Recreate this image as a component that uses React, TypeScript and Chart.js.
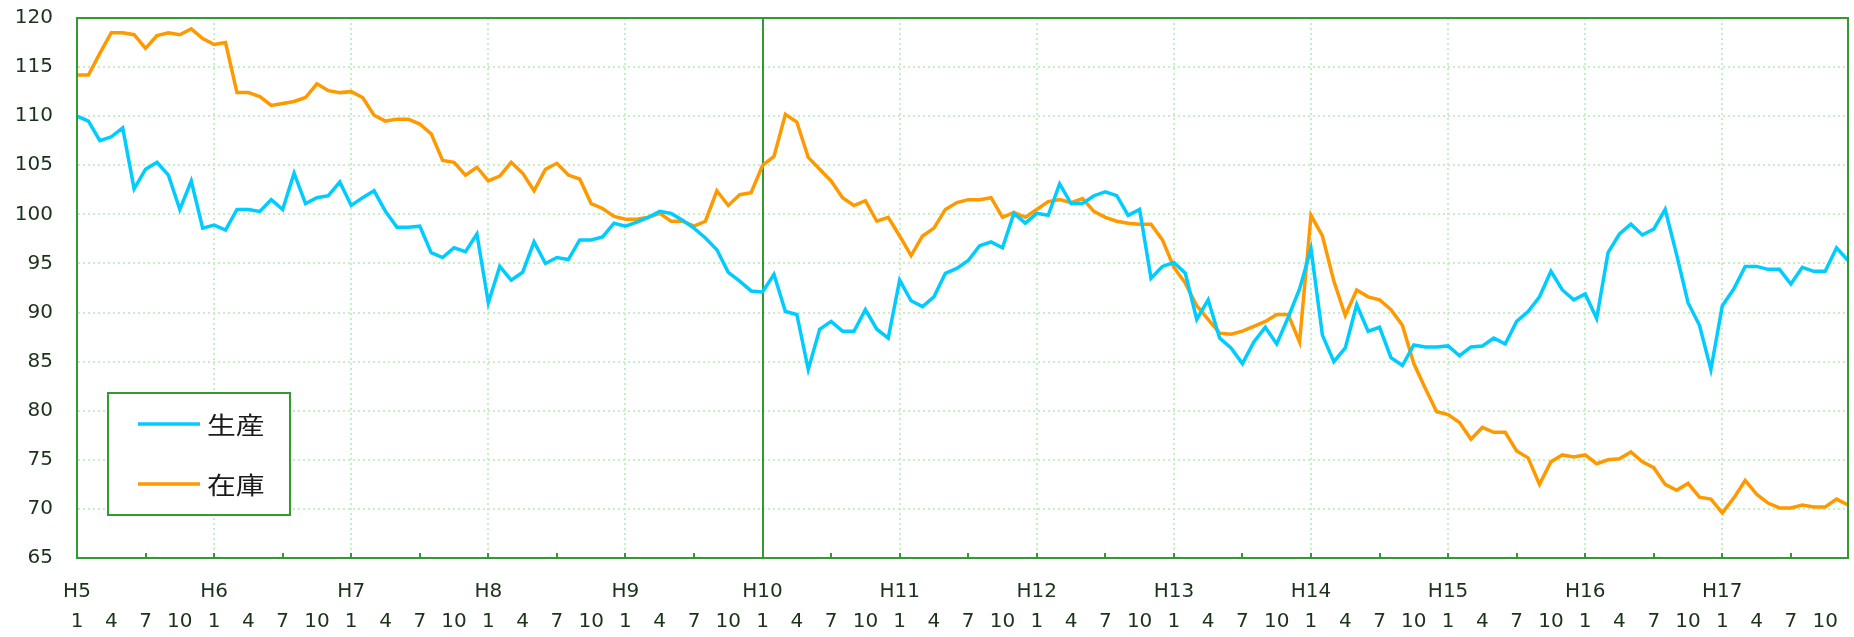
import React, { useEffect, useRef } from 'react';
import { Chart, registerables } from 'chart.js';

Chart.register(...registerables);

const YEARS = ['H5', 'H6', 'H7', 'H8', 'H9', 'H10', 'H11', 'H12', 'H13', 'H14', 'H15', 'H16', 'H17'];
const MONTHS = [1, 2, 3, 4, 5, 6, 7, 8, 9, 10, 11, 12];
const CATEGORIES = YEARS.flatMap((y) => MONTHS.map((m) => `${y}/${m}`));
const MONTH_TICKS = [1, 4, 7, 10];
const MARKED_YEAR = 'H10';

const SERIES_NAMES = ['生産', '在庫'];

const PRODUCTION = [
  110.0, 109.5, 107.5, 107.9, 108.8, 102.6, 104.6, 105.3, 104.0, 100.5, 103.4, 98.6,
  98.9, 98.4, 100.5, 100.5, 100.3, 101.5, 100.5, 104.2, 101.1, 101.7, 101.9, 103.3,
  100.9, 101.7, 102.4, 100.3, 98.7, 98.7, 98.8, 96.1, 95.6, 96.6, 96.2, 98.0,
  91.0, 94.7, 93.3, 94.1, 97.2, 95.0, 95.6, 95.4, 97.4, 97.4, 97.7, 99.1,
  98.8, 99.2, 99.7, 100.3, 100.1, 99.4, 98.6, 97.6, 96.4, 94.1, 93.2, 92.2,
  92.1, 93.9, 90.1, 89.8, 84.2, 88.3, 89.1, 88.1, 88.1, 90.3, 88.3, 87.4,
  93.3, 91.2, 90.6, 91.6, 94.0, 94.5, 95.3, 96.8, 97.2, 96.6, 100.1, 99.1,
  100.1, 99.9, 103.1, 101.1, 101.1, 101.9, 102.3, 101.9, 99.9, 100.5, 93.5, 94.7,
  95.1, 94.0, 89.3, 91.3, 87.4, 86.4, 84.8, 87.0, 88.5, 86.8, 89.5, 92.4,
  96.5, 87.7, 85.0, 86.4, 90.8, 88.1, 88.5, 85.4, 84.6, 86.7, 86.5, 86.5,
  86.6, 85.6, 86.5, 86.6, 87.4, 86.8, 89.1, 90.1, 91.6, 94.2, 92.3, 91.3,
  91.9, 89.4, 96.1, 98.0, 99.0, 97.9, 98.5, 100.5, 95.9, 91.0, 88.7, 84.2,
  90.7, 92.4, 94.7, 94.7, 94.4, 94.4, 92.9, 94.6, 94.2, 94.2, 96.6, 95.3,
];

const INVENTORY = [
  114.2, 114.2, 116.4, 118.5, 118.5, 118.3, 116.9, 118.2, 118.5, 118.3, 118.9, 117.9,
  117.3, 117.5, 112.4, 112.4, 112.0, 111.1, 111.3, 111.5, 111.9, 113.3, 112.6, 112.4,
  112.5, 111.9, 110.1, 109.5, 109.7, 109.7, 109.2, 108.2, 105.5, 105.3, 104.0, 104.8,
  103.4, 103.9, 105.3, 104.2, 102.4, 104.6, 105.2, 104.0, 103.6, 101.1, 100.6, 99.8,
  99.5, 99.5, 99.7, 100.1, 99.3, 99.3, 98.8, 99.3, 102.4, 100.9, 102.0, 102.2,
  105.0, 105.9, 110.2, 109.4, 105.8, 104.6, 103.4, 101.7, 100.9, 101.4, 99.3, 99.7,
  97.8, 95.8, 97.8, 98.6, 100.5, 101.2, 101.5, 101.5, 101.7, 99.7, 100.2, 99.7,
  100.5, 101.3, 101.5, 101.2, 101.6, 100.3, 99.7, 99.3, 99.1, 99.0, 99.0, 97.4,
  94.6, 93.0, 90.7, 89.3, 87.9, 87.8, 88.1, 88.6, 89.1, 89.8, 89.8, 87.0,
  99.9, 97.8, 93.2, 89.7, 92.3, 91.6, 91.3, 90.3, 88.7, 84.8, 82.3, 79.9,
  79.6, 78.8, 77.1, 78.3, 77.8, 77.8, 75.9, 75.2, 72.5, 74.8, 75.5, 75.3,
  75.5, 74.6, 75.0, 75.1, 75.8, 74.8, 74.2, 72.5, 71.9, 72.6, 71.2, 71.0,
  69.6, 71.1, 72.9, 71.5, 70.6, 70.1, 70.1, 70.4, 70.2, 70.2, 71.0, 70.4,
];

const Y_MIN = 65;
const Y_MAX = 120;
const Y_STEP = 5;

const BLUE = '#00CCFF';
const ORANGE = '#FF9900';
const GREEN = '#339933';
const GRID = '#c4f0c4';
const TEXT = '#1a331a';

const decorPlugin = {
  id: 'decor',
  beforeDatasetsDraw(chart: any) {
    const { ctx, chartArea, scales } = chart;
    const { top, bottom } = chartArea;
    const x = scales.x;
    ctx.save();
    ctx.lineWidth = 2;
    ctx.strokeStyle = GRID;
    ctx.setLineDash([2, 3]);
    for (let i = 12; i < CATEGORIES.length; i += 12) {
      if (CATEGORIES[i].startsWith(MARKED_YEAR + '/')) continue;
      const px = Math.round(x.getPixelForValue(i));
      ctx.beginPath();
      ctx.moveTo(px, top);
      ctx.lineTo(px, bottom);
      ctx.stroke();
    }
    ctx.setLineDash([]);
    const mi = CATEGORIES.indexOf(MARKED_YEAR + '/1');
    const mx = Math.round(x.getPixelForValue(mi));
    ctx.strokeStyle = GREEN;
    ctx.lineWidth = 2;
    ctx.beginPath();
    ctx.moveTo(mx, top);
    ctx.lineTo(mx, bottom);
    ctx.stroke();
    for (let i = 6; i < CATEGORIES.length; i += 6) {
      const px = Math.round(x.getPixelForValue(i));
      ctx.beginPath();
      ctx.moveTo(px, bottom);
      ctx.lineTo(px, bottom - 5);
      ctx.stroke();
    }
    ctx.restore();
  },
  afterDraw(chart: any) {
    const { ctx, chartArea } = chart;
    const { left, top, right, bottom } = chartArea;
    ctx.save();
    ctx.strokeStyle = GREEN;
    ctx.lineWidth = 2;
    ctx.strokeRect(left, top, right - left, bottom - top);

    const bx = left + 31;
    const by = top + 375;
    const bw = 182;
    const bh = 122;
    ctx.fillStyle = '#ffffff';
    ctx.fillRect(bx, by, bw, bh);
    ctx.strokeStyle = GREEN;
    ctx.lineWidth = 2;
    ctx.strokeRect(bx, by, bw, bh);
    chart.data.datasets.forEach((ds: any, k: number) => {
      const cy = by + 31 + k * 60;
      ctx.strokeStyle = ds.borderColor;
      ctx.lineWidth = 3.5;
      ctx.beginPath();
      ctx.moveTo(bx + 30, cy);
      ctx.lineTo(bx + 92, cy);
      ctx.stroke();
      ctx.save();
      ctx.translate(bx + 99, cy + 1);
      ctx.scale(1.2, 1);
      ctx.fillStyle = '#1a1a1a';
      ctx.font = '24px "Noto Sans CJK JP"';
      ctx.textBaseline = 'middle';
      ctx.textAlign = 'left';
      ctx.fillText(ds.label, 0, 0);
      ctx.restore();
    });
    ctx.restore();
  },
};

export default function App() {
  const canvasRef = useRef<HTMLCanvasElement | null>(null);

  useEffect(() => {
    const canvas = canvasRef.current;
    if (!canvas) return;
    const chart = new Chart(canvas, {
      type: 'line',
      data: {
        labels: CATEGORIES,
        datasets: [
          {
            label: SERIES_NAMES[0],
            data: PRODUCTION,
            borderColor: BLUE,
            backgroundColor: BLUE,
            borderWidth: 3.5,
            pointRadius: 0,
            tension: 0,
          },
          {
            label: SERIES_NAMES[1],
            data: INVENTORY,
            borderColor: ORANGE,
            backgroundColor: ORANGE,
            borderWidth: 3.5,
            pointRadius: 0,
            tension: 0,
          },
        ],
      },
      options: {
        animation: false,
        responsive: true,
        maintainAspectRatio: false,
        layout: { padding: { top: 18, right: 6, left: 0, bottom: 0 } },
        plugins: {
          legend: { display: false },
          tooltip: { enabled: false },
        },
        scales: {
          x: {
            type: 'category',
            offset: false,
            grid: { display: false, drawTicks: false },
            border: { display: true, color: GREEN, width: 2 },
            afterFit: (scale: any) => {
              scale.height = 79;
              scale.paddingLeft = 0;
              scale.paddingRight = 0;
            },
            ticks: {
              autoSkip: false,
              maxRotation: 0,
              minRotation: 0,
              padding: 19,
              color: TEXT,
              font: { family: '"DejaVu Sans"', size: 20, lineHeight: 1.5 },
              callback: (_v: any, index: number) => {
                const m = MONTHS[index % 12];
                if (!MONTH_TICKS.includes(m)) return '';
                const yl = m === 1 ? YEARS[Math.floor(index / 12)] : '';
                return [yl, String(m)];
              },
            },
          },
          y: {
            min: Y_MIN,
            max: Y_MAX,
            grid: { color: GRID, lineWidth: 2, drawTicks: false },
            border: { display: true, color: GREEN, width: 2, dash: [2, 3] },
            afterFit: (scale: any) => {
              scale.width = 77;
              scale.paddingTop = 0;
              scale.paddingBottom = 0;
            },
            ticks: {
              stepSize: Y_STEP,
              padding: 24,
              color: TEXT,
              font: { family: '"DejaVu Sans"', size: 20 },
            },
          },
        },
      },
      plugins: [decorPlugin],
    });
    return () => chart.destroy();
  }, []);

  return (
    <div style={{ position: 'fixed', left: 0, top: 0, width: 1854, height: 637, background: '#fff' }}>
      <canvas ref={canvasRef} />
    </div>
  );
}
